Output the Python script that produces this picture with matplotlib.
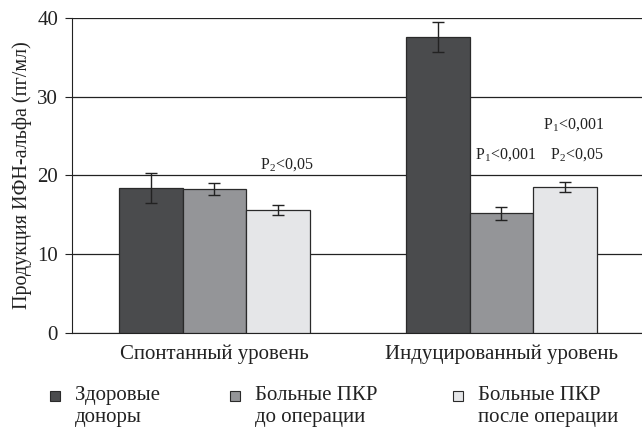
import numpy as np
import matplotlib.pyplot as plt
from matplotlib.patches import Rectangle

plt.rcParams['font.family'] = ['Liberation Serif', 'DejaVu Serif']
plt.rcParams['mathtext.fontset'] = 'custom'
plt.rcParams['mathtext.rm'] = 'Liberation Serif'

# данные
groups = ['Спонтанный уровень', 'Индуцированный уровень']
series = ['Здоровые\nдоноры', 'Больные ПКР\nдо операции', 'Больные ПКР\nпосле операции']
values = [[18.4, 37.6], [18.3, 15.2], [15.6, 18.5]]
errors = [[1.9, 1.9], [0.8, 0.8], [0.6, 0.65]]
colors = ['#4a4b4d', '#949598', '#e5e6e8']
# (группа, серия, текст)
notes = [(0, 2, 'P$_2$<0,05'),
         (1, 1, 'P$_1$<0,001'),
         (1, 2, 'P$_2$<0,05'),
         (1, 2, 'P$_1$<0,001')]

fig = plt.figure(figsize=(6.42, 4.28), dpi=100)
ax = fig.add_axes([0.112, 0.222, 0.888, 0.736])

x = np.arange(len(groups))
w = 0.221
for i in range(3):
    ax.bar(x + (i - 1) * w, values[i], w, color=colors[i], edgecolor='#2a2a2a',
           linewidth=0.9, yerr=errors[i], capsize=4,
           error_kw=dict(elinewidth=1, capthick=1, ecolor='#222'), zorder=3)

note_pos = [(0.03, 21.3), (0.015, 22.5), (0.04, 22.5), (0.03, 26.4)]
for (g, s, txt), (dx, y) in zip(notes, note_pos):
    ax.text(x[g] + (s - 1) * w + dx, y, txt, ha='center', va='center',
            fontsize=11.5, color='#222')

ax.set_xlim(-0.497, 1.49)
ax.set_ylim(0, 40)
ax.set_yticks([0, 10, 20, 30, 40])
ax.yaxis.grid(True, color='#222', linewidth=0.9)
ax.set_axisbelow(True)
for sp in ['top', 'right']:
    ax.spines[sp].set_visible(False)
ax.spines['left'].set_color('#222')
ax.spines['bottom'].set_color('#222')
ax.set_xticks(x)
ax.set_xticklabels(groups, fontsize=15, color='#222')
ax.tick_params(axis='x', length=0, pad=8)
ax.tick_params(axis='y', labelsize=15, length=5, color='#222', labelcolor='#222', pad=5)
ax.set_ylabel('Продукция ИФН-альфа (пг/мл)', fontsize=14.5, labelpad=4, color='#222')

# легенда вручную
sq_x = [50, 230, 453]
for i in range(3):
    fig.add_artist(Rectangle((sq_x[i] / 642, 1 - 401 / 428), 10 / 642, 10 / 428,
                             transform=fig.transFigure, facecolor=colors[i],
                             edgecolor='#2a2a2a', linewidth=0.8))
    fig.text((sq_x[i] + 25) / 642, 1 - 386 / 428, series[i], ha='left', va='top',
             fontsize=15, linespacing=1.22, color='#222')

fig.savefig('out.png', dpi=100)
